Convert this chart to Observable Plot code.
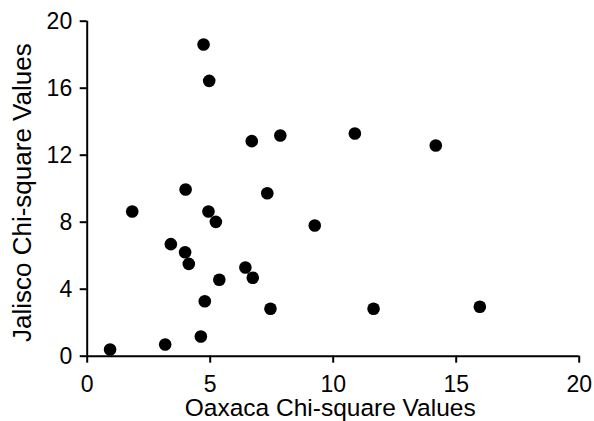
<!DOCTYPE html>
<html>
<head>
<meta charset="utf-8">
<script src="https://cdn.jsdelivr.net/npm/d3@7"></script>
<script src="https://cdn.jsdelivr.net/npm/@observablehq/plot@0.6"></script>
<style>
  html, body { margin: 0; padding: 0; background: #fff; }
  #chart svg { display: block; }
</style>
</head>
<body>
<div id="chart"></div>
<script>
const oaxaca = [4.73, 4.96, 6.69, 7.85, 10.88, 14.17, 4.00, 7.32, 1.83, 4.93, 5.23, 9.25, 3.40, 3.98, 4.13, 6.43, 6.73, 5.37, 4.78, 7.45, 11.64, 15.96, 4.62, 3.17, 0.93];
const jalisco = [18.61, 16.44, 12.84, 13.18, 13.30, 12.58, 9.95, 9.73, 8.64, 8.64, 8.02, 7.80, 6.69, 6.21, 5.51, 5.30, 4.68, 4.56, 3.28, 2.83, 2.83, 2.95, 1.18, 0.70, 0.40];
const xTicks = [0, 5, 10, 15, 20];
const yTicks = [0, 4, 8, 12, 16, 20];
const xTitle = "Oaxaca Chi-square Values";
const yTitle = "Jalisco Chi-square Values";

const data = oaxaca.map((x, i) => ({x, y: jalisco[i]}));
const font = "'Liberation Sans', Arial, Helvetica, sans-serif";

const chart = Plot.plot({
  width: 594,
  height: 421,
  marginLeft: 86.7,
  marginRight: 15.3,
  marginTop: 20.7,
  marginBottom: 65.3,
  style: {fontFamily: font, fontSize: "23px", color: "#000", background: "#fff"},
  x: {domain: [0, 20]},
  y: {domain: [0, 20]},
  marks: [
    Plot.axisX({ticks: xTicks, tickSize: 7, tickPadding: 12, strokeWidth: 2, label: null, fontSize: 23, fill: "#000"}),
    Plot.axisY({ticks: yTicks, tickSize: 7, tickPadding: 8, strokeWidth: 2, label: null, fontSize: 23, fill: "#000"}),
    Plot.ruleY([0], {stroke: "#000", strokeWidth: 2}),
    Plot.ruleX([0], {stroke: "#000", strokeWidth: 2}),
    Plot.dot(data, {x: "x", y: "y", r: 6.3, fill: "#000", stroke: "none"}),
    Plot.text([xTitle], {frameAnchor: "bottom", textAnchor: "middle", text: d => d, dx: -3, dy: 52, fontSize: 24.5, fill: "#000", lineAnchor: "middle"}),
    Plot.text([yTitle], {frameAnchor: "left", textAnchor: "middle", text: d => d, dx: -65, dy: 4, rotate: -90, fontSize: 26, fill: "#000", lineAnchor: "middle"})
  ]
});
document.getElementById("chart").appendChild(chart);
</script>
</body>
</html>
